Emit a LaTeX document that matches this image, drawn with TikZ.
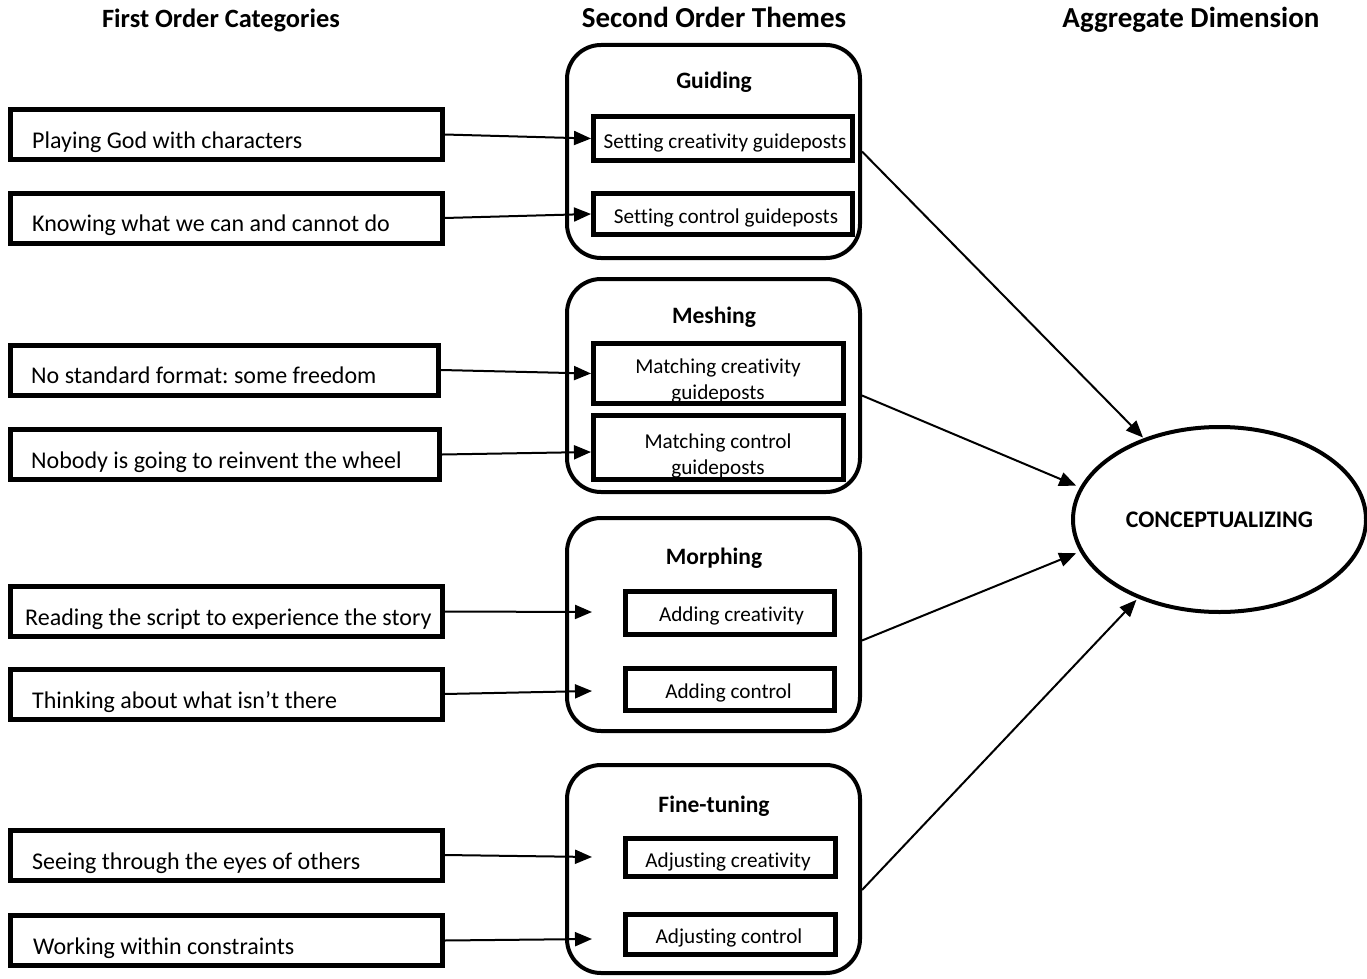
\documentclass[tikz,border=0pt]{standalone}
\usepackage{fontspec}
\setmainfont{Carlito}[Ligatures=NoCommon]
\usetikzlibrary{arrows.meta,shapes.geometric}
\frenchspacing

\tikzset{
  heading/.style={font=\bfseries\fontsize{29}{35}\selectfont, inner sep=0pt, anchor=base},
  firstbox/.style={draw, line width=5pt, minimum width=432pt, minimum height=50pt, inner sep=0pt},
  firsttext/.style={anchor=base west, inner sep=0pt, font=\fontsize{24}{29}\selectfont},
  themebox/.style={draw, line width=4pt, rounded corners=34pt, minimum width=293pt, minimum height=213pt, inner sep=0pt},
  themetitle/.style={font=\bfseries\fontsize{23.5}{28}\selectfont, inner sep=0pt, anchor=base},
  innerbox/.style={draw, line width=5pt, inner sep=0pt},
  innertext/.style={font=\fontsize{21.2}{25.5}\selectfont, inner sep=0pt, align=center, anchor=base},
  dimension/.style={draw, ellipse, line width=4pt, minimum width=293pt, minimum height=185pt, inner sep=0pt,
    font=\bfseries\fontsize{23.8}{28}\selectfont},
  conn/.style={line width=2pt, -{Triangle[length=17pt,width=14pt]}},
}

\begin{document}
\begin{tikzpicture}[x=1pt,y=-1pt]
  \fill[white] (0,0) rectangle (1367,979);
  \useasboundingbox (0,0) rectangle (1367,979);

  % column headings
  \node[heading, font=\bfseries\fontsize{26.4}{32}\selectfont] (h1) at (221,28) {First Order Categories};
  \node[heading] (h2) at (714,28) {Second Order Themes};
  \node[heading] (h3) at (1191,28) {Aggregate Dimension};

  % first order categories
  \node[firstbox] (f1) at (226,134.5) {};
  \node[firsttext] (f1t) at (32,148) {Playing God with characters};
  \node[firstbox] (f2) at (226,218) {};
  \node[firsttext] (f2t) at (32,231) {Knowing what we can and cannot do};
  \node[firstbox, minimum width=428pt] (f3) at (224.5,370) {};
  \node[firsttext] (f3t) at (31,383) {No standard format: some freedom};
  \node[firstbox, minimum width=429pt] (f4) at (225,454.5) {};
  \node[firsttext] (f4t) at (31,468) {Nobody is going to reinvent the wheel};
  \node[firstbox] (f5) at (226,611.5) {};
  \node[firsttext] (f5t) at (25,625) {Reading the script to experience the story};
  \node[firstbox] (f6) at (226,694) {};
  \node[firsttext] (f6t) at (32,708) {Thinking about what isn’t there};
  \node[firstbox] (f7) at (226,855) {};
  \node[firsttext] (f7t) at (32,869) {Seeing through the eyes of others};
  \node[firstbox] (f8) at (226,940.5) {};
  \node[firsttext] (f8t) at (33,954) {Working within constraints};

  % second order themes
  \node[themebox] (g1) at (713.5,151.5) {};
  \node[themetitle] (g1t) at (714,89) {Guiding};
  \node[innerbox, minimum width=259pt, minimum height=44pt] (s1) at (723,138.5) {};
  \node[innertext] (s1t) at (725,148) {Setting creativity guideposts};
  \node[innerbox, minimum width=259pt, minimum height=41pt] (s2) at (723,214) {};
  \node[innertext] (s2t) at (726,223) {Setting control guideposts};

  \node[themebox] (g2) at (713.5,385.5) {};
  \node[themetitle] (g2t) at (714,323) {Meshing};
  \node[innerbox, minimum width=250pt, minimum height=60pt] (m1) at (718.5,373.5) {};
  \node[innertext] (m1t) at (718,399) {Matching creativity\\guideposts};
  \node[innerbox, minimum width=250pt, minimum height=64pt] (m2) at (718.5,447.5) {};
  \node[innertext] (m2t) at (718,474) {Matching control\\guideposts};

  \node[themebox] (g3) at (713.5,624.5) {};
  \node[themetitle] (g3t) at (714,564) {Morphing};
  \node[innerbox, minimum width=209pt, minimum height=43pt] (d1) at (730,613) {};
  \node[innertext] (d1t) at (731.5,621) {Adding creativity};
  \node[innerbox, minimum width=209pt, minimum height=42pt] (d2) at (730,689.5) {};
  \node[innertext] (d2t) at (728.5,698) {Adding control};

  \node[themebox, minimum height=208pt] (g4) at (713.5,869) {};
  \node[themetitle] (g4t) at (714,812) {Fine-tuning};
  \node[innerbox, minimum width=210pt, minimum height=38pt] (j1) at (730.5,857.5) {};
  \node[innertext] (j1t) at (728,867) {Adjusting creativity};
  \node[innerbox, minimum width=210pt, minimum height=40pt] (j2) at (730.5,934.5) {};
  \node[innertext] (j2t) at (729,943) {Adjusting control};

  % aggregate dimension
  \node[dimension] (ce) at (1219.5,519.5) {CONCEPTUALIZING};

  % arrow ends inside the themes without inner boxes
  \coordinate (t5) at (592,612);
  \coordinate (t6) at (592,691);
  \coordinate (t7) at (592,857);
  \coordinate (t8) at (592,939);

  % categories to themes
  \draw[conn] (f1.east) -- (s1.west);
  \draw[conn] (f2.east) -- (s2.west);
  \draw[conn] (f3.east) -- (m1.west);
  \draw[conn] (f4.east) -- ([yshift=-4.5pt]m2.west);
  \draw[conn] (f5.east) -- (t5);
  \draw[conn] (f6.east) -- (t6);
  \draw[conn] (f7.east) -- (t7);
  \draw[conn] (f8.east) -- (t8);

  % themes to the aggregate dimension
  \draw[conn, shorten >=1pt] (g1.east) -- (ce.133);
  \draw[conn, shorten >=4pt] ([yshift=-10pt]g2.east) -- (ce.167);
  \draw[conn, shorten >=4pt] ([yshift=-16pt]g3.east) -- (ce.193);
  \draw[conn, shorten >=2pt] ([yshift=-21pt]g4.east) -- (ce.224);
\end{tikzpicture}
\end{document}
